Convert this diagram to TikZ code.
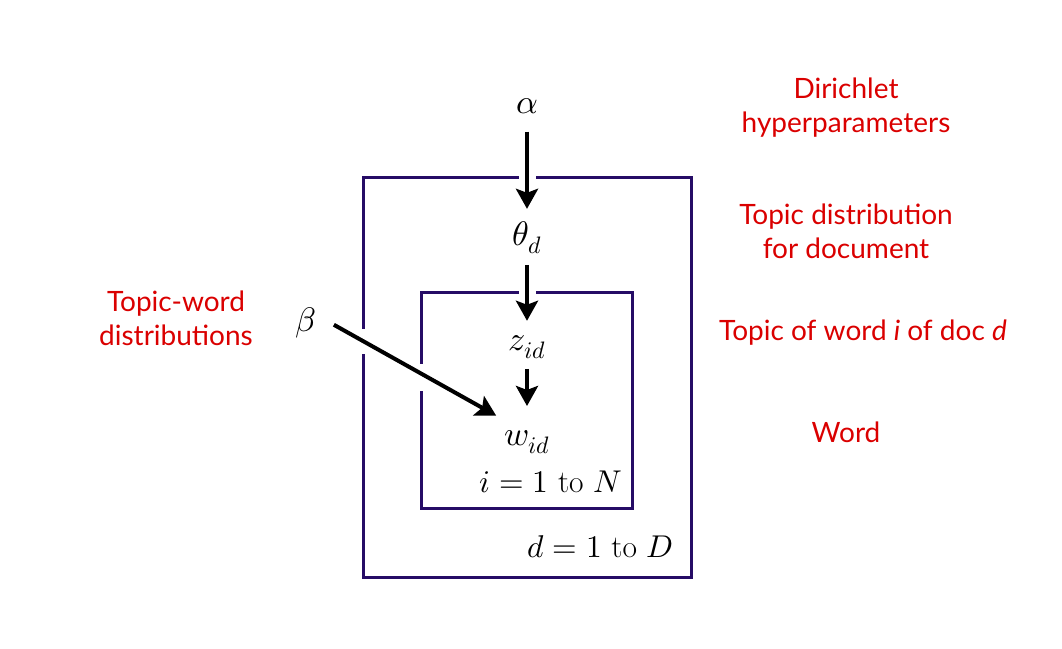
\documentclass[tikz,border=0pt]{standalone}
\usepackage{fontspec}
\usepackage{unicode-math}
\setmathfont{Latin Modern Math}
\newfontfamily\redfont{Lato}
\usetikzlibrary{arrows.meta}
\definecolor{plate}{RGB}{38,12,102}
\definecolor{lab}{RGB}{218,0,0}
\begin{document}
\begin{tikzpicture}[x=1pt,y=-1pt,
  mathn/.style={inner sep=0pt, anchor=base, font=\fontsize{34}{40}\selectfont},
  platelab/.style={inner sep=0pt, anchor=base east, font=\fontsize{31.5}{36}\selectfont},
  redlab/.style={inner sep=0pt, anchor=base, align=center, text=lab, font=\redfont\fontsize{28}{34}\selectfont},
  platel/.style={draw=plate, line width=3pt, line cap=rect},
  arr/.style={draw=black, line width=4pt, -{Stealth[length=20pt,width=22pt,inset=4pt]}}]
\useasboundingbox (0,0) rectangle (1062,648);
% plates
\draw[platel] (517,177) -- (363,177) -- (363,327);
\draw[platel] (363,355) -- (363,577) -- (691,577) -- (691,177) -- (537,177);
\draw[platel] (517,292) -- (421,292) -- (421,362);
\draw[platel] (421,392) -- (421,508) -- (632,508) -- (632,292) -- (537,292);
% nodes
\node[mathn] (alpha) at (527,113) {$\alpha$};
\node[mathn] (theta) at (527,245) {$\theta_d$};
\node[mathn] (z) at (527,350) {$z_{id}$};
\node[mathn, outer xsep=0pt, outer ysep=10pt] (w) at (527,445) {$w_{id}$};
\node[mathn] (beta) at (306,331) {$\beta$};
\node[platelab] (nlab) at (622,492) {$i=1$ to $N$};
\node[platelab] (dlab) at (673,557) {$d=1$ to $D$};
% arrows
\draw[arr, shorten <=18pt, shorten >=12pt] (alpha.south) -- (theta.north);
\draw[arr, shorten <=11pt, shorten >=14pt] (theta.south) -- (z.north);
\draw[arr, shorten <=10pt, shorten >=14pt] (z.south) -- (w.north);
\draw[arr, shorten <=20pt, shorten >=9pt] (beta.35) -- (w.north west);
% red labels
\node[redlab] (l1) at (846,132) {Dirichlet\\hyperparameters};
\node[redlab] (l2) at (846,258) {Topic distribution\\for document};
\node[redlab] (l3) at (863,340) {Topic of word \textit{i} of doc \textit{d}};
\node[redlab] (l4) at (846,442) {Word};
\node[redlab] (l5) at (176,345) {Topic-word\\distributions};
\end{tikzpicture}
\end{document}
